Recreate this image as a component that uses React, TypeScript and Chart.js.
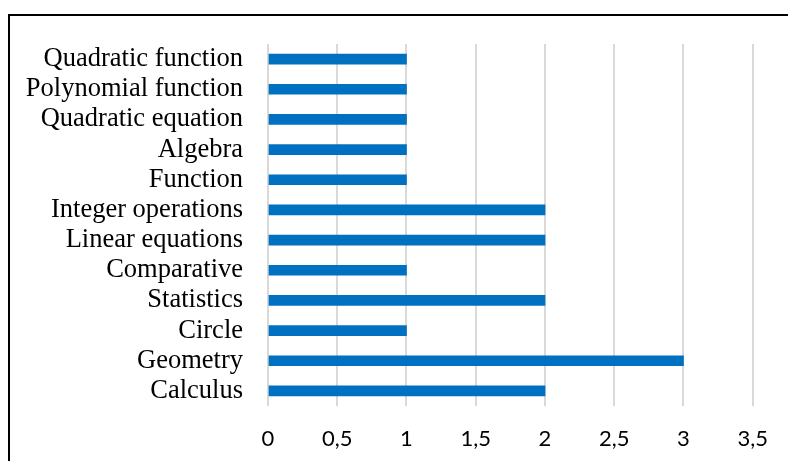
import React, { useEffect, useRef } from "react";
import { Chart, registerables } from "chart.js";

Chart.register(...registerables);

// Topics, listed top to bottom as drawn on the category axis
const topics = [
  "Quadratic function",
  "Polynomial function",
  "Quadratic equation",
  "Algebra",
  "Function",
  "Integer operations",
  "Linear equations",
  "Comparative",
  "Statistics",
  "Circle",
  "Geometry",
  "Calculus",
];

// Number of items per topic
const counts = [1, 1, 1, 1, 1, 2, 2, 1, 2, 1, 3, 2];

const axisMin = 0;
const axisMax = 3.5;
const axisStep = 0.5;

const formatTick = (v: number) => String(v).replace(".", ",");

export default function App() {
  const canvasRef = useRef<HTMLCanvasElement | null>(null);

  useEffect(() => {
    const canvas = canvasRef.current;
    if (!canvas) return;
    const chart = new Chart(canvas, {
      type: "bar",
      data: {
        labels: topics,
        datasets: [
          {
            data: counts,
            backgroundColor: "#0070C0",
            borderWidth: 0,
            barThickness: 10,
          },
        ],
      },
      options: {
        indexAxis: "y",
        responsive: false,
        animation: false,
        devicePixelRatio: 1,
        layout: { padding: { left: 0, top: 44, right: 34, bottom: 0 } },
        plugins: {
          legend: { display: false },
          tooltip: { enabled: false },
        },
        scales: {
          x: {
            min: axisMin,
            max: axisMax,
            ticks: {
              stepSize: axisStep,
              padding: 20,
              color: "#000",
              font: { family: "Lato", size: 22 },
              callback: (v: any) => formatTick(Number(v)),
            },
            grid: { color: "#d9d9d9", lineWidth: 2, drawTicks: false },
            border: { display: false },
            afterFit: (scale: any) => {
              scale.height = 55;
            },
          },
          y: {
            ticks: {
              padding: 25,
              color: "#000",
              font: { family: "'Liberation Serif', 'Times New Roman', serif", size: 26.5 },
              autoSkip: false,
            },
            grid: { display: false, drawTicks: false },
            border: { display: false },
            afterFit: (scale: any) => {
              scale.width = 268;
            },
          },
        },
      },
    });
    return () => chart.destroy();
  }, []);

  return (
    <div
      style={{
        position: "fixed",
        left: 0,
        top: 0,
        width: 788,
        height: 461,
        background: "#fff",
        overflow: "hidden",
      }}
    >
      <div
        style={{
          position: "absolute",
          left: 8,
          top: 14,
          width: 820,
          height: 500,
          border: "2px solid #000",
        }}
      />
      <canvas
        ref={canvasRef}
        width={788}
        height={461}
        style={{ position: "absolute", left: 0, top: 0, width: 788, height: 461 }}
      />
    </div>
  );
}
